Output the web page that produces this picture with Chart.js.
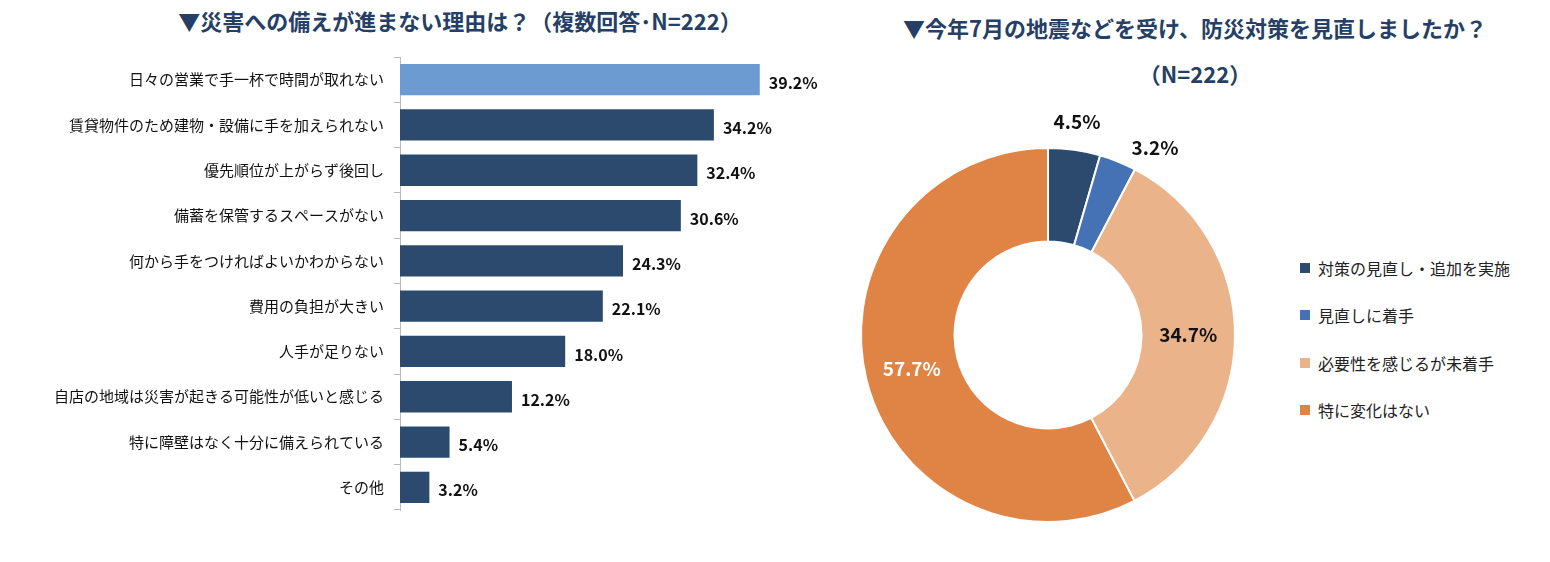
<!DOCTYPE html>
<html><head><meta charset="utf-8">
<script src="https://cdn.jsdelivr.net/npm/chart.js@4"></script>
<style>
body{margin:0;width:1550px;height:562px;background:#fff;position:relative;font-family:"Noto Sans CJK JP",sans-serif;overflow:hidden}
.t{position:absolute;font-weight:bold;font-size:22px;color:#253f66;text-align:center;white-space:nowrap}
#leg{position:absolute;left:1300px;top:256px;font-size:16px;color:#222}
#leg div{height:47.3px;display:flex;align-items:flex-start}
#leg span{display:inline-block;width:10px;height:10px;margin:7px 8px 0 0}
</style></head><body>
<div class="t" style="left:115px;top:4px;width:690px">▼災害への備えが進まない理由は？（複数回答･N=222）</div>
<div class="t" style="left:840px;top:4px;width:710px;line-height:46px">▼今年7月の地震などを受け、防災対策を見直しましたか？<br>（N=222）</div>
<canvas id="bar" width="840" height="562" style="position:absolute;left:0;top:0"></canvas>
<canvas id="pie" width="400" height="400" style="position:absolute;left:848px;top:135px;overflow:visible"></canvas>
<div id="leg"></div>
<script>
const reasons=["日々の営業で手一杯で時間が取れない","賃貸物件のため建物・設備に手を加えられない","優先順位が上がらず後回し","備蓄を保管するスペースがない","何から手をつければよいかわからない","費用の負担が大きい","人手が足りない","自店の地域は災害が起きる可能性が低いと感じる","特に障壁はなく十分に備えられている","その他"];
const reasonValues=[39.2,34.2,32.4,30.6,24.3,22.1,18.0,12.2,5.4,3.2];
const responses=["対策の見直し・追加を実施","見直しに着手","必要性を感じるが未着手","特に変化はない"];
const responseValues=[4.5,3.2,34.7,57.7];
const pieColors=["#2c4a6e","#4472b4","#eab38a","#df8445"];
const F='"Noto Sans CJK JP", sans-serif';
const barLabels={id:'bl',afterDatasetsDraw(c){const x=c.ctx;x.save();x.font='bold 16px '+F;x.fillStyle='#111';x.textBaseline='middle';
c.getDatasetMeta(0).data.forEach((b,i)=>{x.fillText(reasonValues[i].toFixed(1)+'%',b.x+9,b.y+3);});x.restore();}};
new Chart(document.getElementById('bar'),{type:'bar',
data:{labels:reasons,datasets:[{data:reasonValues,backgroundColor:reasonValues.map((v,i)=>i==0?'#6b9bd1':'#2c4a6e'),barPercentage:0.69,categoryPercentage:1}]},
options:{indexAxis:'y',responsive:false,animation:false,devicePixelRatio:1,
layout:{padding:{top:57,bottom:52,right:27}},
plugins:{legend:{display:false},tooltip:{enabled:false}},
scales:{x:{display:false,min:0,max:45},
y:{afterFit(s){s.width=400;},grid:{display:true,drawOnChartArea:false,tickLength:6,color:'#bbb',offset:true},border:{color:'#bbb'},
ticks:{color:'#111',font:{size:15,family:F},padding:10}}}},
plugins:[barLabels]});
</script>
<canvas id="lbl" width="710" height="562" style="position:absolute;left:840px;top:0;pointer-events:none"></canvas>
<script>
const lc=document.getElementById('lbl').getContext('2d');
const pieLabels={id:'pl',afterDatasetsDraw(c){const x=c.ctx;x.save();x.textAlign='center';x.textBaseline='middle';
c.getDatasetMeta(0).data.forEach((a,i)=>{if(i<2)return;x.font='bold 19px '+F;x.fillStyle=i==3?'#fff':'#111';
const p=a.tooltipPosition();x.fillText(responseValues[i].toFixed(1)+'%',p.x,p.y);});x.restore();
lc.font='bold 19px '+F;lc.fillStyle='#111';lc.textAlign='center';lc.textBaseline='middle';
lc.fillText(responseValues[0].toFixed(1)+'%',237,122);lc.fillText(responseValues[1].toFixed(1)+'%',315,148);}};
new Chart(document.getElementById('pie'),{type:'doughnut',
data:{labels:responses,datasets:[{data:responseValues,backgroundColor:pieColors,borderColor:'#fff',borderWidth:2}]},
options:{responsive:false,animation:false,devicePixelRatio:1,cutout:'50%',layout:{padding:12},
plugins:{legend:{display:false},tooltip:{enabled:false}}},plugins:[pieLabels]});
document.getElementById('leg').innerHTML=responses.map((r,i)=>`<div><span style="background:${pieColors[i]}"></span>${r}</div>`).join('');
</script></body></html>
